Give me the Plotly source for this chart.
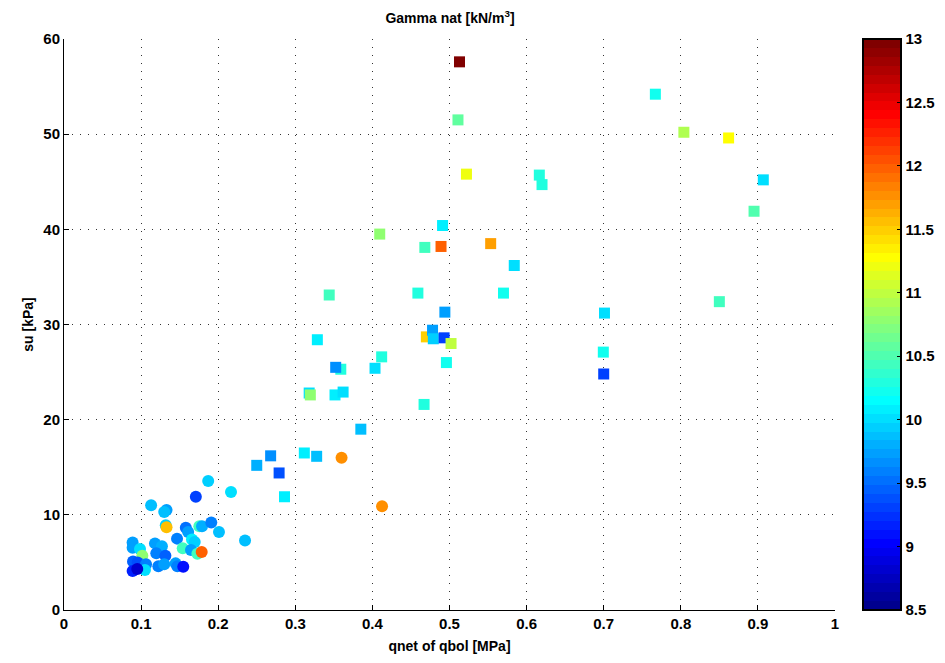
import numpy as np
import plotly.graph_objects as go

# ---- data: squares (one series) ----
sq_x = [0.513, 0.511, 0.522, 0.6165, 0.620, 0.767, 0.804, 0.862, 0.907, 0.895, 0.850,
        0.491, 0.4095, 0.468, 0.489, 0.5534, 0.584, 0.344, 0.459, 0.570, 0.494, 0.701,
        0.470, 0.478, 0.479, 0.493, 0.502, 0.496, 0.6995, 0.700, 0.3286, 0.359, 0.3524,
        0.4034, 0.412, 0.467, 0.318, 0.3195, 0.3515, 0.362, 0.385, 0.3117, 0.3277,
        0.268, 0.250, 0.279, 0.286]
sq_y = [57.6, 51.5, 45.8, 45.7, 44.7, 54.2, 50.2, 49.6, 45.2, 41.9, 32.4,
        40.4, 39.5, 38.1, 38.2, 38.5, 36.2, 33.1, 33.3, 33.3, 31.3, 31.2,
        28.7, 29.4, 28.5, 28.6, 28.0, 26.0, 27.1, 24.8, 28.4, 25.3, 25.5,
        25.4, 26.6, 21.6, 22.8, 22.6, 22.6, 22.9, 19.0, 16.5, 16.15,
        16.2, 15.2, 14.4, 11.9]
sq_c = [13.0, 10.6, 11.18, 10.3, 10.3, 10.19, 10.9, 11.25, 10.03, 10.47, 10.4,
        10.07, 10.75, 10.4, 12.0, 11.73, 10.0, 10.4, 10.28, 10.19, 9.76, 10.03,
        11.48, 9.7, 9.95, 9.34, 11.03, 10.19, 10.19, 9.34, 10.07, 10.28, 9.625,
        10.0, 10.3, 10.3, 10.0, 10.82, 10.1, 10.0, 9.88, 10.1, 9.9,
        9.625, 9.82, 9.4, 10.07]

# ---- data: circles (second series) ----
ci_x = [0.187, 0.2166, 0.171, 0.113, 0.133, 0.130, 0.132, 0.133, 0.158, 0.161,
        0.166, 0.1695, 0.1755, 0.179, 0.191, 0.201, 0.2348, 0.1466, 0.089, 0.089,
        0.0986, 0.1016, 0.118, 0.127, 0.1197, 0.1315, 0.154, 0.1647, 0.173, 0.1786,
        0.0895, 0.0955, 0.1064, 0.105, 0.089, 0.095, 0.1224, 0.130, 0.1448, 0.147,
        0.1547, 0.360, 0.4125]
ci_y = [13.55, 12.4, 11.9, 11.0, 10.5, 10.3, 8.9, 8.7, 8.65, 8.2,
        7.4, 7.15, 8.8, 8.8, 9.2, 8.2, 7.3, 7.5, 7.1, 6.55,
        6.4, 5.7, 7.0, 6.7, 5.96, 5.7, 6.5, 6.3, 5.9, 6.1,
        5.1, 5.0, 4.8, 4.2, 4.1, 4.3, 4.6, 4.8, 4.9, 4.6,
        4.55, 16.0, 10.9]
ci_c = [9.95, 10.0, 9.3, 9.9, 9.7, 9.88, 9.95, 11.56, 9.55, 9.75,
        10.05, 9.95, 10.4, 9.8, 9.6, 9.88, 9.88, 9.6, 9.7, 9.7,
        10.0, 10.75, 9.76, 9.82, 9.6, 9.45, 10.4, 9.7, 10.4, 12.0,
        9.45, 9.4, 9.6, 10.0, 9.2, 8.8, 9.6, 9.76, 9.7, 9.6,
        9.1, 11.8, 11.8]

cb_ticks = [8.5, 9, 9.5, 10, 10.5, 11, 11.5, 12, 12.5, 13]
x_ticks = [0, 0.1, 0.2, 0.3, 0.4, 0.5, 0.6, 0.7, 0.8, 0.9, 1]
y_ticks = [0, 10, 20, 30, 40, 50, 60]


def jet(n=64):
    m = int(np.ceil(n / 4))
    u = np.concatenate([np.arange(1, m + 1) / m, np.ones(m - 1), np.arange(m, 0, -1) / m])
    g = int(np.ceil(m / 2)) - (1 if n % 4 == 1 else 0) + np.arange(1, len(u) + 1)
    r = g + m
    b = g - m
    g = g[g <= n]
    r = r[r <= n]
    b = b[b >= 1]
    J = np.zeros((n, 3))
    J[r - 1, 0] = u[:len(r)]
    J[g - 1, 1] = u[:len(g)]
    J[b - 1, 2] = u[len(u) - len(b):]
    return J


J = jet(64)
cscale = []
for i, (rr, gg, bb) in enumerate(J):
    col = "rgb(%d,%d,%d)" % (round(rr * 255), round(gg * 255), round(bb * 255))
    cscale.append([i / 64, col])
    cscale.append([(i + 1) / 64, col])

FONT = "Liberation Sans, Arial, sans-serif"

fig = go.Figure()
fig.add_trace(go.Scatter(
    x=sq_x, y=sq_y, mode="markers",
    marker=dict(symbol="square", size=11, color=sq_c, coloraxis="coloraxis",
                line=dict(width=0)),
    showlegend=False))
fig.add_trace(go.Scatter(
    x=ci_x, y=ci_y, mode="markers",
    marker=dict(symbol="circle", size=12, color=ci_c, coloraxis="coloraxis",
                line=dict(width=0)),
    showlegend=False))

axis_common = dict(
    showgrid=True, gridcolor="#333333", gridwidth=1, griddash="1px,7px",
    zeroline=False, showline=True, linecolor="black", linewidth=1,
    ticks="inside", ticklen=5, tickcolor="black", mirror=False,
    tickfont=dict(family=FONT, size=15, color="black", weight="bold"),
)

fig.update_layout(
    width=945, height=663,
    margin=dict(l=64, r=110, t=39, b=53, autoexpand=False),
    paper_bgcolor="white", plot_bgcolor="white",
    title=dict(text="<b>Gamma nat [kN/m<sup>3</sup>]</b>", x=450 / 945, xanchor="center",
               y=1 - 18 / 663, yanchor="middle", yref="container",
               font=dict(family=FONT, size=14, color="black")),
    xaxis=dict(range=[0, 1], tickvals=x_ticks, ticktext=[("%g" % v) for v in x_ticks],
               title=dict(text="<b>qnet of qbol [MPa]</b>", standoff=10,
                          font=dict(family=FONT, size=14, color="black")),
               **axis_common),
    yaxis=dict(range=[0, 60], tickvals=y_ticks,
               title=dict(text="<b>su [kPa]</b>", standoff=6,
                          font=dict(family=FONT, size=14, color="black")),
               **axis_common),
    coloraxis=dict(
        colorscale=cscale, cmin=8.5, cmax=13,
        colorbar=dict(
            xref="container", x=863 / 945, xanchor="left", xpad=0, ypad=0,
            y=0.5, yanchor="middle", len=1, lenmode="fraction",
            thickness=38, thicknessmode="pixels",
            outlinewidth=2, outlinecolor="black",
            tickvals=cb_ticks, ticktext=[("%g" % v) for v in cb_ticks],
            ticks="inside", ticklen=5, tickcolor="black",
            tickfont=dict(family=FONT, size=15, color="black", weight="bold"),
        ),
    ),
)

fig.write_html("out.html")
